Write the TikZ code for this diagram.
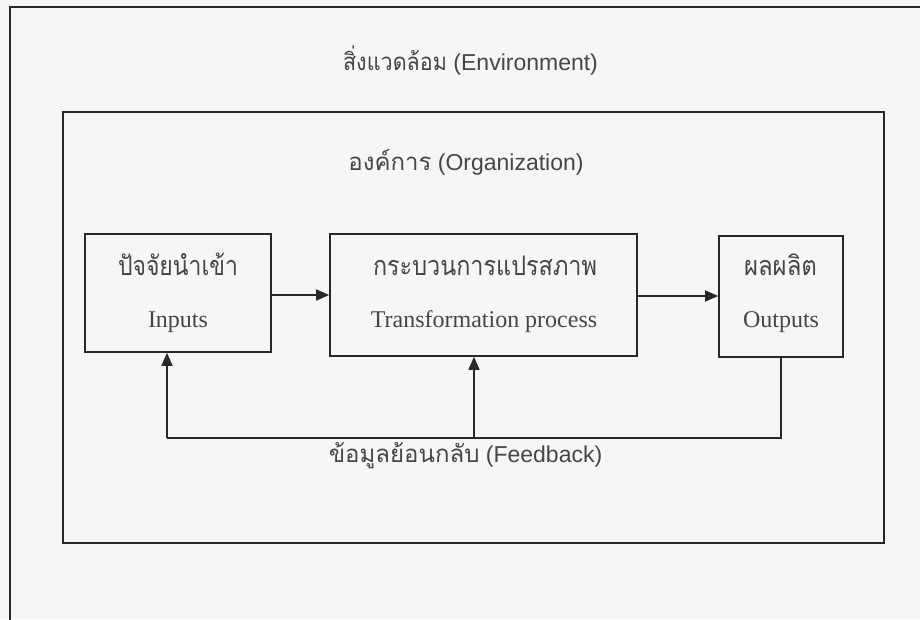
\documentclass[tikz,border=0pt]{standalone}
\usepackage{fontspec}
\usepackage{graphicx}
\setmainfont{Liberation Serif}
\newfontfamily\sansfnt{Liberation Sans}
\newfontfamily\thaifnt[Script=Thai]{Loma}
\usetikzlibrary{arrows.meta}
\definecolor{ink}{RGB}{40,40,40}
\definecolor{label}{RGB}{70,70,70}
\definecolor{paper}{RGB}{245,246,248}
% stretch a text to a given width, keeping its height
\newcommand{\fitw}[2]{\resizebox{#1}{\height}{#2}}
\begin{document}
\begin{tikzpicture}[x=1pt,y=-1pt,%
% common options for the frames:
frame/.style = {draw=ink, line width=1.8pt},
% common options for the blocks:
block/.style = {draw=ink, line width=1.6pt, inner sep=0},
% common options for the texts:
thaibox/.style = {anchor=base, inner sep=0, text=label, font=\thaifnt\fontsize{27}{30}\selectfont},
engbox/.style = {anchor=base, inner sep=0, text=label, font=\fontsize{24}{28}\selectfont},
head/.style = {anchor=base, inner sep=0, text=label, font=\sansfnt\fontsize{23}{26}\selectfont},
link/.style = {draw=ink, line width=1.5pt, -{Triangle[length=13pt,width=11pt]}}]
\useasboundingbox[fill=paper] (0,0) rectangle (920,619);
\clip (0,0) rectangle (920,619);
\draw[frame, line width=2.4pt] (10,7) rectangle (940,640);
\draw[frame] (63,112) rectangle (884,543);
\node[head] (Env) at (470.5,70) {\fitw{104pt}{\thaifnt\fontsize{24}{26}\selectfont สิ่งแวดล้อม} (Environment)};
\node[head] (Org) at (466,170) {{\thaifnt\fontsize{24}{26}\selectfont องค์การ} (Organization)};
\node[block, minimum width=186pt, minimum height=118pt] (In) at (178,293) {};
\node[block, minimum width=307pt, minimum height=122pt] (Tr) at (483.5,295) {};
\node[block, minimum width=124pt, minimum height=121pt] (Out) at (781,296.5) {};
\node[thaibox] (In1) at (178,275) {\fitw{120pt}{ปัจจัยนำเข้า}};
\node[engbox] (In2) at (178,327) {Inputs};
\node[thaibox] (Tr1) at (485,275) {\fitw{224pt}{กระบวนการแปรสภาพ}};
\node[engbox] (Tr2) at (484,327) {Transformation process};
\node[thaibox] (Out1) at (780.5,275) {\fitw{73pt}{ผลผลิต}};
\node[engbox] (Out2) at (781,327) {Outputs};
\coordinate (FbL) at (167,438);
\coordinate (FbM) at (474,438);
\draw[link] (In.east |- 0,295) to (Tr.west |- 0,295);
\draw[link] (Tr.east |- 0,296) to (Out.west |- 0,296);
\draw[draw=ink, line width=1.5pt] (Out.south) |- (FbL);
\draw[link] (FbL) to (FbL |- In.south);
\draw[link] (FbM) to (FbM |- Tr.south);
\node[head] (Fb) at (465.5,462) {{\thaifnt\fontsize{24}{26}\selectfont ข้อมูลย้อนกลับ} (Feedback)};
\end{tikzpicture}
\end{document}
